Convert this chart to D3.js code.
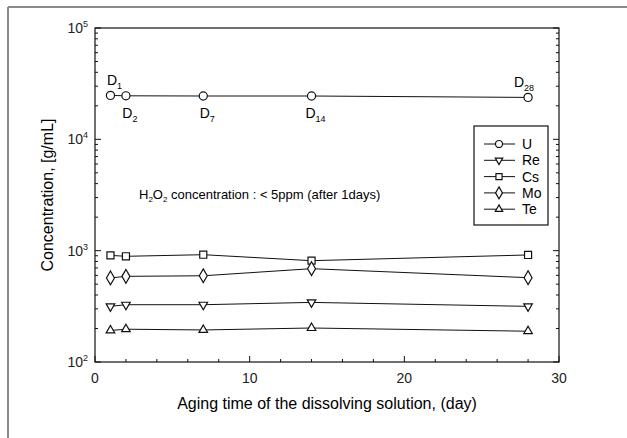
<!DOCTYPE html>
<html>
<head>
<meta charset="utf-8">
<script src="https://cdn.jsdelivr.net/npm/d3@7"></script>
<style>
  body { margin: 0; background: #fff; }
  svg { font-family: "Liberation Sans", Arial, sans-serif; }
  .line { fill: none; stroke: #111; stroke-width: 1; }
  .sym { fill: #fff; stroke: #111; stroke-width: 1.2; }
</style>
</head>
<body>
<svg></svg>
<script>
let days = [1, 2, 7, 14, 28];
let uVals = [24800, 24600, 24500, 24500, 23800];
let reVals = [316, 327, 327, 343, 316];
let csVals = [907, 890, 920, 813, 915];
let moVals = [569, 588, 595, 689, 572];
let teVals = [192, 197, 194, 202, 189];
let seriesNames = ["U", "Re", "Cs", "Mo", "Te"];
let dayLabels = ["1", "2", "7", "14", "28"];
let xTicks = [0, 10, 20, 30];
let yTicks = [100, 1000, 10000, 100000];

window.onload = () => {
    let width = 627, height = 438;
    let svg = d3.select("svg").attr("width", width).attr("height", height);

    let x = d3.scaleLinear().domain([0, 30]).range([95, 559]);
    let y = d3.scaleLog().domain([100, 100000]).range([362, 28]);

    // outer frame (top and left only visible)
    svg.append("line").attr("x1", 8).attr("x2", width).attr("y1", 7).attr("y2", 7)
        .attr("stroke", "#8a8a8a").attr("stroke-width", 2);
    svg.append("line").attr("x1", 8).attr("x2", 8).attr("y1", 7).attr("y2", height)
        .attr("stroke", "#8a8a8a").attr("stroke-width", 2);

    // plot box
    svg.append("rect").attr("x", 95).attr("y", 28).attr("width", 464).attr("height", 334)
        .attr("fill", "none").attr("stroke", "#111").attr("stroke-width", 1.2);

    // x ticks (inward)
    let xMinor = d3.range(0, 31, 2);
    svg.append("g").selectAll("line").data(xMinor).enter().append("line")
        .attr("x1", d => x(d)).attr("x2", d => x(d))
        .attr("y1", 362).attr("y2", d => d % 10 === 0 ? 356 : 359)
        .attr("stroke", "#111");
    svg.append("g").selectAll("text").data(xTicks).enter().append("text")
        .attr("x", d => x(d)).attr("y", 383)
        .attr("text-anchor", "middle").attr("font-size", 14).attr("fill", "#222")
        .text(d => d);

    // y ticks (inward, both sides)
    let yMinor = [];
    for (let e = 2; e < 5; e++) {
        for (let k = 1; k < 10; k++) yMinor.push(k * Math.pow(10, e));
    }
    yMinor.push(100000);
    [95, 559].forEach((ax, i) => {
        let dir = i === 0 ? 1 : -1;
        svg.append("g").selectAll("line").data(yMinor).enter().append("line")
            .attr("x1", ax).attr("x2", d => ax + dir * (yTicks.includes(d) ? 6 : 3))
            .attr("y1", d => y(d)).attr("y2", d => y(d))
            .attr("stroke", "#111");
    });
    let yl = svg.append("g").selectAll("text").data(yTicks).enter().append("text")
        .attr("x", 88).attr("y", d => y(d) + 5)
        .attr("text-anchor", "end").attr("font-size", 14).attr("fill", "#222");
    yl.append("tspan").text("10");
    yl.append("tspan").attr("font-size", 9).attr("dy", -6).text(d => Math.round(Math.log10(d)));

    // series
    let series = [
        { name: "U", vals: uVals, sym: d3.symbolCircle },
        { name: "Re", vals: reVals, sym: "down" },
        { name: "Cs", vals: csVals, sym: d3.symbolSquare },
        { name: "Mo", vals: moVals, sym: d3.symbolDiamond },
        { name: "Te", vals: teVals, sym: d3.symbolTriangle }
    ];
    let symPath = (s, k) => {
        if (s === "down" || s === d3.symbolTriangle) return d3.symbol(d3.symbolTriangle, 32 * k)();
        if (s === d3.symbolDiamond) return d3.symbol(s, 55 * k)();
        if (s === d3.symbolSquare) return d3.symbol(s, 50 * k)();
        return d3.symbol(s, 52 * k)();
    };
    let line = d3.line().x(d => x(d[0])).y(d => y(d[1]));

    series.forEach(s => {
        let pts = days.map((d, i) => [d, s.vals[i]]);
        svg.append("path").datum(pts).attr("class", "line").attr("d", line);
        svg.append("g").selectAll("path").data(pts).enter().append("path")
            .attr("class", "sym")
            .attr("d", symPath(s.sym, 1))
            .attr("transform", d => "translate(" + x(d[0]) + "," + y(d[1]) + ")" + (s.sym === "down" ? " rotate(180)" : ""));
    });

    // D labels on U series
    let above = [true, false, false, false, true];
    let dl = svg.append("g").selectAll("text").data(days).enter().append("text")
        .attr("x", (d, i) => x(d) + (i === 4 ? -4 : 4))
        .attr("y", (d, i) => y(uVals[i]) + (above[i] ? -10 : 22))
        .attr("text-anchor", "middle").attr("font-size", 14);
    dl.append("tspan").text("D");
    dl.append("tspan").attr("font-size", 9).attr("dy", 4).text((d, i) => dayLabels[i]);

    // annotation
    let ann = svg.append("text").attr("x", 139).attr("y", 199).attr("font-size", 13);
    ann.append("tspan").text("H");
    ann.append("tspan").attr("font-size", 8).attr("dy", 3).text("2");
    ann.append("tspan").attr("dy", -3).text("O");
    ann.append("tspan").attr("font-size", 8).attr("dy", 3).text("2");
    ann.append("tspan").attr("dy", -3).text(" concentration : < 5ppm (after 1days)");

    // legend
    let lg = svg.append("g");
    lg.append("rect").attr("x", 474).attr("y", 126).attr("width", 74).attr("height", 99)
        .attr("fill", "#fff").attr("stroke", "#111").attr("stroke-width", 1.2);
    series.forEach((s, i) => {
        let ly = 144 + i * 16.3;
        lg.append("line").attr("x1", 484).attr("x2", 515).attr("y1", ly).attr("y2", ly)
            .attr("stroke", "#111");
        lg.append("path").attr("class", "sym").attr("d", symPath(s.sym, 0.75))
            .attr("transform", "translate(499," + ly + ")" + (s.sym === "down" ? " rotate(180)" : ""));
        lg.append("text").attr("x", 522).attr("y", ly + 5).attr("font-size", 14).text(seriesNames[i]);
    });

    // axis titles
    svg.append("text").attr("x", 327).attr("y", 409).attr("text-anchor", "middle")
        .attr("font-size", 16).text("Aging time of the dissolving solution, (day)");
    svg.append("text").attr("transform", "translate(53,195) rotate(-90)")
        .attr("text-anchor", "middle").attr("font-size", 16).text("Concentration, [g/mL]");
};
</script>
</body>
</html>
